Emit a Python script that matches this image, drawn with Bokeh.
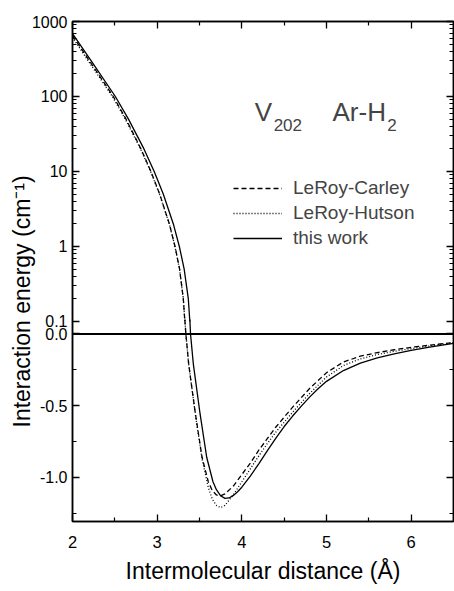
import numpy as np
from bokeh.plotting import figure
from bokeh.models import (Range1d, LogScale, LinearAxis, FixedTicker, CustomJSTickFormatter,
                          Span, Label, Legend, LegendItem, Title)
from bokeh.embed import file_html
from bokeh.resources import INLINE

# ---------------- data ----------------
# "this work" (solid)
r_this = [2.0, 2.219, 2.506, 2.661, 2.844, 2.965, 3.072, 3.191, 3.262, 3.319, 3.368, 3.386,
          3.394, 3.427, 3.506, 3.585, 3.659, 3.7, 3.75, 3.8, 3.85, 3.9, 3.95, 4.0, 4.1, 4.2, 4.3,
          4.4, 4.5, 4.6, 4.7, 4.8, 4.9, 5.0, 5.2, 5.4, 5.6, 5.8, 6.0, 6.2, 6.5]
e_this = [692, 300, 100, 50, 20, 10, 5, 2, 1, 0.5, 0.2, 0.1,
          0.0, -0.208, -0.554, -0.859, -1.03, -1.085, -1.128, -1.146, -1.143, -1.125, -1.10, -1.068, -0.99, -0.905, -0.815,
          -0.727, -0.645, -0.572, -0.505, -0.44, -0.382, -0.33, -0.255, -0.203, -0.167, -0.139, -0.115, -0.094, -0.065]

# LeRoy-Carley (dashed)
r_carley = [2.0, 2.199, 2.482, 2.632, 2.809, 2.926, 3.030, 3.144, 3.211, 3.265, 3.309, 3.327,
            3.339, 3.372, 3.451, 3.53, 3.604, 3.65, 3.7, 3.74, 3.8, 3.9, 4.0, 4.1, 4.2, 4.3,
            4.4, 4.5, 4.6, 4.8, 5.0, 5.2, 5.4, 5.6, 5.8, 6.0, 6.2, 6.5]
e_carley = [651, 300, 100, 50, 20, 10, 5, 2, 1, 0.5, 0.2, 0.1,
            0.0, -0.208, -0.554, -0.859, -1.03, -1.09, -1.122, -1.13, -1.115, -1.06, -0.98, -0.90, -0.81, -0.73,
            -0.65, -0.58, -0.51, -0.38, -0.27, -0.195, -0.155, -0.13, -0.11, -0.093, -0.079, -0.06]

# LeRoy-Hutson (dotted)
r_hutson = [2.0, 2.184, 2.471, 2.623, 2.803, 2.923, 3.027, 3.143, 3.210, 3.264, 3.309, 3.327,
            3.339, 3.372, 3.451, 3.53, 3.604, 3.65, 3.7, 3.75, 3.8, 3.9, 4.0, 4.1, 4.2, 4.3,
            4.4, 4.5, 4.6, 4.8, 5.0, 5.2, 5.4, 5.6, 5.8, 6.0, 6.2, 6.5]
e_hutson = [617, 300, 100, 50, 20, 10, 5, 2, 1, 0.5, 0.2, 0.1,
            0.0, -0.21, -0.56, -0.87, -1.07, -1.15, -1.195, -1.21, -1.195, -1.12, -1.03, -0.94, -0.85, -0.765,
            -0.685, -0.615, -0.545, -0.415, -0.30, -0.22, -0.173, -0.143, -0.121, -0.102, -0.085, -0.063]

x_ticks = [2, 3, 4, 5, 6]
x_minor = [2.5, 3.5, 4.5, 5.5]
log_ticks = [0.1, 1, 10, 100, 1000]
log_labels = ["0.1", "1", "10", "100", "1000"]
lin_ticks = [-1.0, -0.5, 0.0]
lin_labels = ["-1.0", "-0.5", "0.0"]
lin_minor = [-1.25, -0.75, -0.25]

BREAK = 0.1                      # log scale above, linear scale below
LIN_LO, LIN_HI = -1.307, 2.178   # linear (lower) part range over full frame
LOG_LO, LOG_HI = 2.154e-4, 1000  # log (upper) part range over full frame

FONT = "Liberation Sans"


def log_to_lin(E):
    f = (np.log10(E) - np.log10(LOG_LO)) / (np.log10(LOG_HI) - np.log10(LOG_LO))
    return float(LIN_LO + f * (LIN_HI - LIN_LO))


def split(r, e):
    r = np.asarray(r, float)
    e = np.asarray(e, float)
    up = e >= BREAK
    lo = e <= BREAK
    return r[up], e[up], r[lo], e[lo]


p = figure(width=454, height=591, x_range=Range1d(2, 6.5), y_range=Range1d(LIN_LO, LIN_HI),
           output_backend="svg", toolbar_location=None)
p.extra_y_ranges = {"log": Range1d(LOG_LO, LOG_HI)}
p.extra_y_scales = {"log": LogScale()}
p.min_border_left = 72
p.min_border_right = 1
p.min_border_top = 21
p.min_border_bottom = 70
p.grid.visible = False
p.outline_line_color = "black"
p.outline_line_width = 1.5

# ----- curves -----
styles = [
    ("LeRoy-Carley", r_carley, e_carley, "5 3"),
    ("LeRoy-Hutson", r_hutson, e_hutson, "1 2"),
    ("this work", r_this, e_this, "solid"),
]
items = []
for name, r, e, dash in styles:
    ru, eu, rl, el = split(r, e)
    g1 = p.line(ru, eu, y_range_name="log", line_color="black", line_width=1.3, line_dash=dash)
    p.line(rl, el, line_color="black", line_width=1.3, line_dash=dash)
    items.append(LegendItem(label=name, renderers=[g1]))

p.add_layout(Span(location=0, dimension="width", line_color="black", line_width=2))

# ----- y ticks (log part mapped onto the frame, linear part as is) -----
major_pos = [log_to_lin(v) for v in log_ticks] + lin_ticks
major_lab = log_labels + lin_labels
minor_pos = []
for d in log_ticks[:-1]:
    for m in range(2, 10):
        minor_pos.append(log_to_lin(d * m))
minor_pos += lin_minor
yticker = FixedTicker(ticks=major_pos, minor_ticks=minor_pos)
yfmt = CustomJSTickFormatter(args=dict(pos=major_pos, lab=major_lab), code="""
for (let i = 0; i < pos.length; i++) {
  if (Math.abs(tick - pos[i]) < 1e-6) { return lab[i]; }
}
return "";
""")
blank = CustomJSTickFormatter(code='return "";')
xticker = FixedTicker(ticks=x_ticks, minor_ticks=x_minor)


def style(ax, show_labels=True):
    ax.axis_line_width = 1.5
    ax.axis_line_color = "black"
    ax.major_tick_in = 7
    ax.major_tick_out = 0
    ax.minor_tick_in = 4
    ax.minor_tick_out = 0
    ax.major_tick_line_width = 1.3
    ax.minor_tick_line_width = 1.2
    ax.major_tick_line_color = "black"
    ax.minor_tick_line_color = "black"
    ax.major_label_text_font = FONT
    ax.major_label_text_font_size = "16px"
    if show_labels:
        ax.major_label_text_color = "black"
    else:
        ax.formatter = blank
        ax.major_label_text_color = None
        ax.major_label_standoff = 0


ly = p.yaxis[0]
ly.ticker = yticker
ly.formatter = yfmt
style(ly)
ly.major_label_standoff = 5

bx = p.xaxis[0]
bx.ticker = xticker
style(bx)
bx.major_label_text_font_size = "16.5px"
bx.major_label_standoff = 14
bx.axis_label = "Intermolecular distance (Å)"
bx.axis_label_text_font = FONT
bx.axis_label_text_font_style = "normal"
bx.axis_label_text_font_size = "23px"
bx.axis_label_text_color = "black"
bx.axis_label_standoff = 7

ry = LinearAxis(ticker=yticker)
style(ry, False)
p.add_layout(ry, "right")
tx = LinearAxis(ticker=xticker)
style(tx, False)
p.add_layout(tx, "above")

# y-axis title (vertical, starting near the bottom of the frame)
ytitle = Title(text="Interaction energy (cm⁻¹)", align="left", offset=94, standoff=0,
               text_font=FONT, text_font_size="23px", text_font_style="normal",
               text_color="black")
try:
    ytitle.standoff = -12
except Exception:
    pass
p.add_layout(ytitle, "left")

# V202  Ar-H2 annotation
p.add_layout(Label(x=4.153, y=1.544, text="V", text_font=FONT, text_font_size="26px",
                   text_baseline="alphabetic"))
p.add_layout(Label(x=4.376, y=1.46, text="202", text_font=FONT, text_font_size="17px",
                   text_baseline="alphabetic"))
p.add_layout(Label(x=5.071, y=1.544, text="Ar-H", text_font=FONT, text_font_size="26px",
                   text_baseline="alphabetic"))
p.add_layout(Label(x=5.718, y=1.46, text="2", text_font=FONT, text_font_size="17px",
                   text_baseline="alphabetic"))

legend = Legend(items=items, location=(161, 271), border_line_color=None,
                background_fill_alpha=0, padding=0, margin=0, spacing=1,
                glyph_width=49, glyph_height=24, label_height=24, label_standoff=11,
                label_text_font=FONT, label_text_font_size="19px")
p.add_layout(legend, "center")

open("out.html", "w").write(file_html(p, INLINE))
